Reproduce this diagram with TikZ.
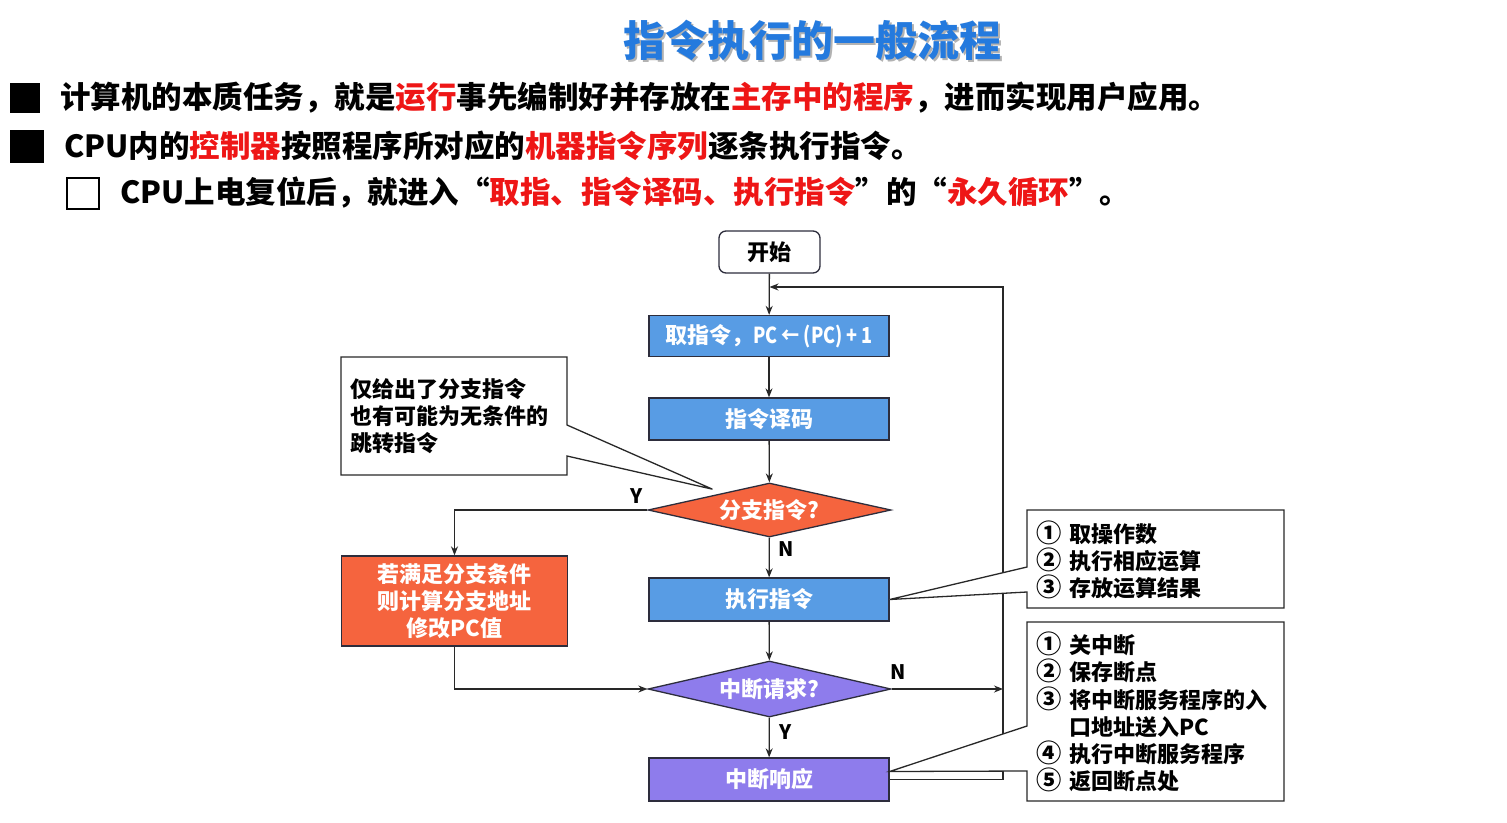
\documentclass[tikz,border=0pt]{standalone}
\usepackage{fontspec}
\setmainfont{Noto Sans CJK SC}
\usepackage{graphicx}
\usetikzlibrary{shapes.geometric,arrows.meta,calc}
\definecolor{boxblue}{RGB}{88,156,228}
\definecolor{boxorange}{RGB}{245,100,62}
\definecolor{boxpurple}{RGB}{142,124,236}
\definecolor{edgedark}{RGB}{45,45,60}
\definecolor{linegray}{RGB}{40,40,40}
\definecolor{titleblue}{RGB}{36,122,222}
\definecolor{hl}{RGB}{238,22,22}
\tikzset{
  fc/.style={font=\fontsize{22}{27.2}\selectfont\bfseries},
  procbox/.style={fc, rectangle, draw=edgedark, line width=1.3pt, text=white, minimum width=240pt, minimum height=42pt, inner sep=0pt},
  decbox/.style={fc, diamond, aspect=4.5, draw=edgedark, line width=1.3pt, text=white, minimum width=243pt, minimum height=55pt, inner sep=0pt},
  arr/.style={draw=linegray, line width=1.3pt, -{Stealth[length=9pt,width=7pt]}},
  conn/.style={draw=linegray, line width=1.3pt},
  yn/.style={font=\fontsize{20}{24}\selectfont\bfseries, inner sep=0pt},
  callshape/.style={draw=linegray, line width=1.3pt, fill=white},
  bul/.style={font=\fontsize{30.5}{36}\selectfont\bfseries, anchor=west, inner sep=0pt},
}
\newcommand{\hlt}[1]{\textcolor{hl}{#1}}
\newcommand{\cnum}[1]{\makebox[21pt][l]{\scalebox{1.15}{#1}}\hspace{12pt}}
\newcommand{\cskip}{\makebox[21pt][l]{}\hspace{12pt}}
\begin{document}
\begin{tikzpicture}[x=1pt,y=-1pt]
\useasboundingbox (0,0) rectangle (1507,822);
\fill[white] (0,0) rectangle (1507,822);

% title
\node[font=\fontsize{42}{50}\selectfont\bfseries, text=black!30] (titleshadow) at (814.5,42.5) {指令执行的一般流程};
\node[font=\fontsize{42}{50}\selectfont\bfseries, text=titleblue] (title) at (812,40) {指令执行的一般流程};

% bullets
\fill[black] (10,83) rectangle (40,113);
\fill[black] (10,130) rectangle (44,163);
\draw[line width=2pt, black] (67,178) rectangle (99,209);
\node[bul] (b1) at (60,98) {计算机的本质任务，就是\hlt{运行}事先编制好并存放在\hlt{主存中的程序}，进而实现用户应用。};
\node[bul] (b2) at (64,146) {CPU内的\hlt{控制器}按照程序所对应的\hlt{机器指令序列}逐条执行指令。};
\node[bul] (b3) at (120,193) {CPU上电复位后，就进入“\hlt{取指、指令译码、执行指令}”的“\hlt{永久循环}”。};

% flowchart nodes
\node[fc, draw=edgedark, line width=1.3pt, rounded corners=7pt, fill=white, minimum width=101pt, minimum height=42pt, inner sep=0pt] (start) at (769.5,252) {开始};
\node[procbox, fill=boxblue, minimum height=41pt] (n1) at (769,336) {取指令，\scalebox{0.82}[1]{PC ← (PC) + 1}};
\node[procbox, fill=boxblue] (n2) at (769,419) {指令译码};
\node[decbox, fill=boxorange, minimum height=54pt] (d1) at (769.5,510) {分支指令?};
\node[procbox, fill=boxblue, minimum height=43pt] (n5) at (769,599.5) {执行指令};
\node[decbox, fill=boxpurple, minimum height=56pt] (d2) at (769.5,689) {中断请求?};
\node[procbox, fill=boxpurple, minimum height=43pt] (n7) at (769,779.5) {中断响应};
\node[fc, rectangle, draw=edgedark, line width=1.3pt, fill=boxorange, text=white, minimum width=226pt, minimum height=90pt, inner sep=0pt, align=center] (n4) at (454.5,601) {若满足分支条件\\则计算分支地址\\修改PC值};

% connectors
\draw[arr] (start) -- (n1);
\draw[arr] (n1) -- (n2);
\draw[arr] (n2) -- (d1);
\draw[arr] (d1) -- (n5);
\draw[arr] (n5) -- (d2);
\draw[arr] (d2) -- (n7);
\draw[arr] (d1.west) -| (n4.north);
\draw[arr] (n4.south) |- (d2.west);
\coordinate (looptop) at (1003,287);
\coordinate (join) at (769.5,287);
\draw[arr] (n7.east) -| (looptop) -- (join);
\draw[arr] (d2.east) -- (d2.east -| looptop);

% Y / N labels
\node[yn] (ly1) at (637,496) {Y};
\node[yn] (ln1) at (786,549) {N};
\node[yn] (ln2) at (898,672) {N};
\node[yn] (ly2) at (786,732) {Y};

% callouts
\path[callshape] (341,357) -- (567,357) -- (567,425) -- ($(d1.north west)+(4,-7)$) -- (567,456) -- (567,475) -- (341,475) -- cycle;
\path[callshape] (1027,510) -- (1284,510) -- (1284,608) -- (1027,608) -- (1027,592) -- (n5.east) -- (1027,567) -- cycle;
\path[callshape] (1027,622) -- (1284,622) -- (1284,801) -- (1027,801) -- (1027,771) -- ($(n7.east)+(0,-8)$) -- (1027,726) -- cycle;

\node[fc, align=left, anchor=west, inner sep=0pt] (c1) at (350,416) {仅给出了分支指令\\也有可能为无条件的\\跳转指令};
\node[fc, align=left, anchor=west, inner sep=0pt] (c2) at (1036,560) {\cnum{①}取操作数\\\cnum{②}执行相应运算\\\cnum{③}存放运算结果};
\node[fc, align=left, anchor=west, inner sep=0pt] (c3) at (1036,712) {\cnum{①}关中断\\\cnum{②}保存断点\\\cnum{③}将中断服务程序的入\\\cskip 口地址送入PC\\\cnum{④}执行中断服务程序\\\cnum{⑤}返回断点处};
\end{tikzpicture}
\end{document}
